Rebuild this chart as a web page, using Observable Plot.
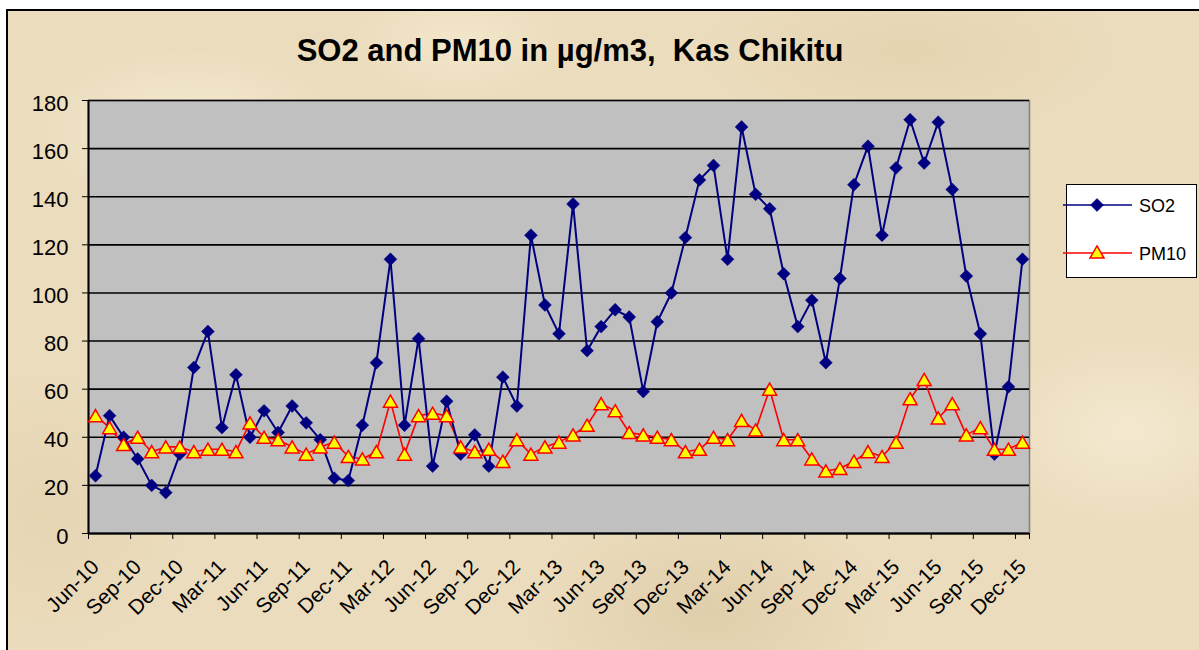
<!DOCTYPE html>
<html>
<head>
<meta charset="utf-8">
<script src="https://cdn.jsdelivr.net/npm/d3@7"></script>
<script src="https://cdn.jsdelivr.net/npm/@observablehq/plot@0.6"></script>
<style>
  html, body { margin: 0; padding: 0; background: #fff; }
  body { width: 1199px; height: 650px; position: relative; overflow: hidden; font-family: "Liberation Sans", Arial, sans-serif; }
  #paper {
    position: absolute; left: 6px; top: 9px; width: 1200px; height: 650px;
    border-top: 2px solid #000; border-left: 2px solid #000;
    background-color: #ebdcbd;
    background-image:
      radial-gradient(ellipse 220px 120px at 180px 120px, rgba(255,248,228,0.55), rgba(255,248,228,0) 70%),
      radial-gradient(ellipse 260px 160px at 700px 600px, rgba(210,190,150,0.45), rgba(210,190,150,0) 70%),
      radial-gradient(ellipse 200px 140px at 1120px 420px, rgba(250,242,220,0.6), rgba(250,242,220,0) 70%),
      radial-gradient(ellipse 300px 120px at 900px 40px, rgba(218,200,160,0.4), rgba(218,200,160,0) 70%),
      radial-gradient(ellipse 200px 200px at 40px 500px, rgba(222,204,166,0.45), rgba(222,204,166,0) 70%),
      radial-gradient(ellipse 160px 90px at 450px 30px, rgba(250,240,215,0.5), rgba(250,240,215,0) 70%);
  }
  #chart { position: absolute; left: 0; top: 0; }
  #title {
    position: absolute; left: 0; top: 33px; width: 1140px; text-align: center;
    font-size: 31px; font-weight: bold; color: #000;
  }
  #legend {
    position: absolute; left: 1066px; top: 184px; width: 129px; height: 92px;
    background: #fff; border: 1.5px solid #000;
  }
  #legend svg { position: absolute; left: -4px; top: 0; overflow: visible; }
</style>
</head>
<body>
<div id="paper"></div>
<div id="chart"></div>
<div id="title">SO2 and PM10 in µg/m3,&nbsp; Kas Chikitu</div>
<div id="legend"></div>
<script>
// Tick labels (every third month, Jun-10 .. Dec-15)
const tickLabels = ["Jun-10","Sep-10","Dec-10","Mar-11","Jun-11","Sep-11","Dec-11","Mar-12","Jun-12","Sep-12","Dec-12","Mar-13","Jun-13","Sep-13","Dec-13","Mar-14","Jun-14","Sep-14","Dec-14","Mar-15","Jun-15","Sep-15","Dec-15"];

// Monthly SO2 (µg/m3), Jun-10 .. Dec-15
const so2 = [24,49,40,31,20,17,33,69,84,44,66,40,51,42,53,46,39,23,22,45,71,114,45,
             81,28,55,33,41,28,65,53,124,95,83,137,76,86,93,90,59,88,100,123,147,
             153,114,169,141,135,108,86,97,71,106,145,161,124,152,172,154,171,143,107,83,33,61,114];

// Monthly PM10 (µg/m3), Jun-10 .. Dec-15
const pm10 = [49,44,37,40,34,36,36,34,35,35,34,46,40,39,36,33,36,38,32,31,34,55,33,
              49,50,49,36,34,35,30,39,33,36,38,41,45,54,51,42,41,40,39,34,35,
              40,39,47,43,60,39,39,31,26,27,30,34,32,38,56,64,48,54,41,44,35,35,38];

const yTicks = [0,20,40,60,80,100,120,140,160,180];

const n = so2.length;
const so2Data = so2.map((v, i) => ({i, v}));
const pmData = pm10.map((v, i) => ({i, v}));
const labelIdx = tickLabels.map((_, k) => k * 3);
const tickMarks = tickLabels.map((_, k) => k * 3 - 0.5).concat([n - 0.5]);

const plot = Plot.plot({
  width: 1199,
  height: 650,
  marginLeft: 88,
  marginRight: 170,
  marginTop: 100,
  marginBottom: 117,
  style: {background: "transparent", fontFamily: "'Liberation Sans', Arial, sans-serif", fontSize: "21px", color: "#000"},
  x: {type: "linear", domain: [-0.5, n - 0.5]},
  y: {domain: [0, 180]},
  marks: [
    Plot.frame({fill: "#c0c0c0", stroke: "#808080", strokeWidth: 1.5}),
    Plot.gridY(yTicks, {stroke: "#000", strokeOpacity: 1, strokeWidth: 1.6}),
    Plot.ruleX([-0.5], {stroke: "#000", strokeWidth: 2}),
    Plot.ruleY([0], {stroke: "#000", strokeWidth: 2}),
    Plot.axisY({ticks: yTicks, tickSize: 6, tickFormat: () => "", label: null, stroke: "#000"}),
    Plot.axisY({ticks: yTicks, tickSize: 0, tickPadding: 20, fontSize: 22, label: null, dy: 3}),
    Plot.axisX({ticks: tickMarks, tickSize: 6, tickFormat: () => "", label: null, stroke: "#000"}),
    Plot.axisX({ticks: labelIdx, tickSize: 0, tickRotate: -45, tickPadding: 30, fontSize: 21, label: null,
                tickFormat: (d) => tickLabels[Math.round(d / 3)]}),
    Plot.line(pmData, {x: "i", y: "v", stroke: "#ff0000", strokeWidth: 1.6}),
    Plot.line(so2Data, {x: "i", y: "v", stroke: "#000080", strokeWidth: 2}),
    Plot.dot(so2Data, {x: "i", y: "v", symbol: "diamond2", r: 5.8, fill: "#000080", stroke: "#000080", strokeWidth: 0.5}),
    Plot.dot(pmData, {x: "i", y: "v", symbol: "triangle", r: 5.2, fill: "#ffff00", stroke: "#ff0000", strokeWidth: 1.5, dy: 2})
  ]
});
document.getElementById("chart").appendChild(plot);

// Legend
const lg = d3.select("#legend").append("svg").attr("width", 140).attr("height", 95);
const items = [
  {name: "SO2", stroke: "#000080", fill: "#000080", sym: d3.symbolDiamond2, size: 108, y: 20},
  {name: "PM10", stroke: "#ff0000", fill: "#ffff00", sym: d3.symbolTriangle, size: 85, y: 68}
];
items.forEach(it => {
  lg.append("line").attr("x1", 0).attr("x2", 69).attr("y1", it.y).attr("y2", it.y)
    .attr("stroke", it.stroke).attr("stroke-width", 1.6);
  lg.append("path").attr("d", d3.symbol(it.sym, it.size)())
    .attr("transform", `translate(34,${it.sym === d3.symbolTriangle ? it.y + 1 : it.y})`)
    .attr("fill", it.fill).attr("stroke", it.stroke).attr("stroke-width", it.sym === d3.symbolTriangle ? 1.5 : 0.5);
  lg.append("text").attr("x", 76).attr("y", it.y + 6.5).text(it.name)
    .attr("font-size", 18).attr("font-family", "'Liberation Sans', Arial, sans-serif").attr("fill", "#000");
});
</script>
</body>
</html>
